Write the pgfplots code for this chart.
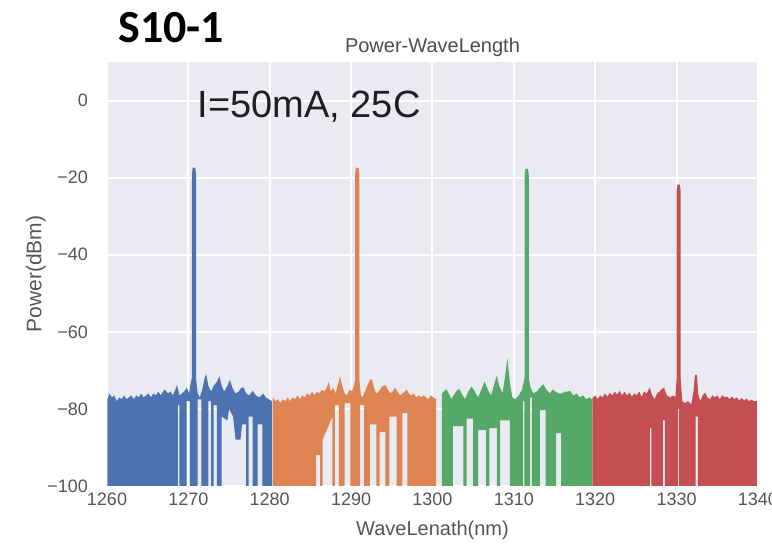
\documentclass[border=0pt]{standalone}
\usepackage{fontspec}
\setmainfont{Liberation Sans}
\newfontfamily\carlito{Carlito}
\usepackage{pgfplots}
\pgfplotsset{compat=1.18}
\usepgfplotslibrary{fillbetween}
\definecolor{sbbg}{HTML}{EAEAF2}
\definecolor{sbblue}{HTML}{4C72B0}
\definecolor{sborange}{HTML}{DD8452}
\definecolor{sbgreen}{HTML}{55A868}
\definecolor{sbred}{HTML}{C44E52}
\definecolor{ticktext}{HTML}{555555}
\begin{document}
\begin{tikzpicture}
\begin{axis}[
  at={(0pt,0pt)}, anchor=south west,
  scale only axis, width=325.5pt, height=212pt,
  xmin=1260, xmax=1340, ymin=-100, ymax=10,
  xtick={1260,1270,...,1340},
  xticklabels={1260,1270,1280,1290,1300,1310,1320,1330,1340},
  ytick={-100,-80,-60,-40,-20,0},
  yticklabels={−100,−80,−60,−40,−20,0},
  axis background/.style={fill=sbbg},
  grid=major, major grid style={white, line width=1pt},
  axis line style={draw=none},
  major tick length=0pt,
  tick label style={font=\fontsize{9}{10}\selectfont, text=ticktext},
  yticklabel style={xshift=-6pt},
  xlabel={WaveLenath(nm)},
  xlabel style={at={(axis description cs:0.5,0)}, anchor=center, yshift=-22pt,
    font=\fontsize{10}{12}\selectfont, text=ticktext},
  ylabel={Power(dBm)},
  ylabel style={at={(axis description cs:-0.109,0.5)}, anchor=center,
    font=\fontsize{10.5}{12}\selectfont, text=ticktext},
  title={Power-WaveLength},
  title style={at={(axis description cs:0.5,1)}, anchor=center, yshift=1.5pt,
    font=\fontsize{10}{12}\selectfont, text=ticktext!90!black},
  clip=false,
]
% ---- blue: 1260 - 1280 nm
\addplot[draw=none, name path=bu, forget plot] coordinates {
(1260.05,-77.5)(1260.3,-76)(1260.6,-77)(1260.9,-76.5)(1261.2,-78)(1261.5,-77)(1261.8,-77.5)(1262.1,-76.5)(1262.4,-77.5)(1262.7,-77)(1263.0,-76.5)(1263.3,-77.5)(1263.6,-76.5)(1263.9,-77)(1264.2,-76)(1264.5,-77)(1264.8,-76.5)(1265.1,-76)(1265.4,-77)(1265.7,-76)(1266.0,-76.5)(1266.3,-75.5)(1266.6,-76.5)(1266.9,-75.5)(1267.1,-75)(1267.5,-76)(1267.8,-75.5)(1268.1,-76.5)(1268.4,-75)(1268.6,-73.8)(1268.9,-76.5)(1269.2,-76)(1269.5,-75.5)(1269.8,-74.5)(1270.1,-76)(1270.3,-73)(1270.44,-72)(1270.44,-19)(1270.54,-17.4)(1270.84,-17.4)(1270.94,-19)(1270.94,-72)(1271.15,-76)(1271.4,-77)(1271.7,-75)(1272.0,-72)(1272.2,-71)(1272.45,-74)(1272.8,-75.5)(1273.1,-74)(1273.5,-73)(1273.8,-71.5)(1274.1,-74)(1274.4,-75.5)(1274.8,-74)(1275.1,-72.5)(1275.4,-74.5)(1275.8,-76)(1276.2,-75.5)(1276.5,-74.5)(1276.8,-74.5)(1277.1,-76)(1277.5,-76.5)(1277.9,-75.3)(1278.3,-76.5)(1278.7,-77)(1279.0,-76.5)(1279.2,-76)(1279.5,-77)(1279.9,-77.5)(1280.25,-78)
};
\addplot[draw=none, name path=bl, forget plot] coordinates {
(1260.05,-100)(1268.7,-100)(1268.7,-79)(1268.9,-79)(1268.9,-100)(1269.8,-100)(1269.8,-78)(1270.2,-78)(1270.2,-100)(1271.15,-100)(1271.15,-77.5)(1271.6,-77.5)(1271.6,-100)(1272.45,-100)(1272.45,-78)(1272.8,-78)(1272.8,-100)(1273.1,-100)(1273.1,-79)(1273.5,-79)(1273.5,-100)(1274.1,-100)(1274.1,-82)(1274.8,-83)(1275.0,-80)(1275.5,-82)(1275.8,-88)(1276.4,-88)(1276.6,-84)(1277.1,-84)(1277.1,-100)(1277.4,-100)(1277.4,-82)(1277.9,-82)(1277.9,-100)(1278.5,-100)(1278.5,-84)(1279.1,-84)(1279.1,-100)(1280.25,-100)
};
\addplot[fill=sbblue, draw=none, forget plot] fill between[of=bu and bl];
% ---- orange: 1280 - 1300 nm
\addplot[draw=none, name path=ou, forget plot] coordinates {
(1280.35,-77)(1280.7,-78)(1281.0,-77.5)(1281.3,-78.5)(1281.6,-77.5)(1281.9,-78)(1282.2,-77)(1282.5,-78)(1282.8,-77)(1283.1,-77.5)(1283.4,-76.5)(1283.7,-77.5)(1284.0,-76.5)(1284.3,-77)(1284.6,-76)(1284.9,-76.5)(1285.2,-75.5)(1285.5,-76.5)(1285.8,-75.5)(1286.1,-76)(1286.4,-75)(1286.7,-75.5)(1287.0,-74.5)(1287.25,-73)(1287.5,-75.5)(1287.8,-74.5)(1288.1,-76)(1288.4,-73.5)(1288.65,-71.6)(1288.9,-74)(1289.2,-76)(1289.5,-76.5)(1289.8,-75)(1290.1,-75.5)(1290.35,-74)(1290.5,-72)(1290.5,-19)(1290.6,-17.4)(1290.9,-17.4)(1291.0,-19)(1291.0,-72)(1291.2,-76.5)(1291.4,-77)(1291.7,-75.5)(1292.0,-74)(1292.3,-72.5)(1292.55,-72.3)(1292.8,-74.5)(1293.1,-76)(1293.4,-75.5)(1293.7,-74.5)(1294.0,-74)(1294.25,-73.8)(1294.5,-75)(1294.8,-76)(1295.1,-75.5)(1295.4,-74.5)(1295.7,-75.5)(1296.0,-76.5)(1296.3,-76)(1296.6,-75.5)(1296.85,-75)(1297.1,-76)(1297.4,-76.5)(1297.7,-76)(1298.0,-77)(1298.3,-76.5)(1298.6,-77)(1298.9,-76.5)(1299.2,-77)(1299.5,-77.5)(1299.8,-76.5)(1300.1,-77)(1300.45,-77.5)
};
\addplot[draw=none, name path=ol, forget plot] coordinates {
(1280.35,-100)(1285.7,-100)(1285.7,-92)(1286.2,-92)(1286.2,-100)(1286.5,-100)(1286.5,-88)(1287.7,-82)(1287.7,-100)(1288.0,-100)(1288.0,-79)(1288.5,-79)(1288.5,-100)(1289.2,-100)(1289.2,-78.5)(1289.9,-78.5)(1289.9,-100)(1291.1,-100)(1291.1,-79)(1291.6,-79)(1291.6,-100)(1292.3,-100)(1292.3,-84)(1293.1,-84)(1293.1,-100)(1293.5,-100)(1293.5,-86)(1294.2,-86)(1294.2,-100)(1294.7,-100)(1294.7,-82)(1295.6,-82)(1295.6,-100)(1296.3,-100)(1296.3,-81)(1296.9,-81)(1296.9,-100)(1300.45,-100)
};
\addplot[fill=sborange, draw=none, forget plot] fill between[of=ou and ol];
% ---- green: 1301 - 1320 nm
\addplot[draw=none, name path=gu, forget plot] coordinates {
(1301.15,-76)(1301.4,-75.5)(1301.7,-74.9)(1302.0,-76)(1302.3,-77.5)(1302.6,-76.5)(1302.9,-75.5)(1303.3,-74.8)(1303.7,-76.5)(1304.0,-77.5)(1304.4,-75.5)(1304.8,-74.2)(1305.2,-75.5)(1305.6,-77)(1306.0,-75)(1306.4,-72.9)(1306.8,-75)(1307.2,-76.5)(1307.6,-73.5)(1307.9,-71.4)(1308.2,-74)(1308.6,-76)(1308.9,-72)(1309.2,-66.8)(1309.5,-73)(1309.8,-77)(1310.2,-77.5)(1310.6,-76.5)(1311.0,-75)(1311.33,-72)(1311.33,-19.3)(1311.43,-17.7)(1311.73,-17.7)(1311.83,-19.3)(1311.83,-72)(1312.05,-74.4)(1312.4,-76)(1312.8,-75.5)(1313.2,-74.5)(1313.6,-73.6)(1314.0,-75)(1314.4,-76)(1314.8,-75)(1315.1,-75.5)(1315.5,-76)(1315.9,-76)(1316.3,-75.5)(1316.6,-75.5)(1316.9,-75.3)(1317.3,-76.5)(1317.7,-76)(1318.1,-77)(1318.5,-76.5)(1318.9,-77.5)(1319.3,-77)(1319.6,-77.6)
};
\addplot[draw=none, name path=gl, forget plot] coordinates {
(1301.15,-100)(1302.5,-100)(1302.5,-84.5)(1303.8,-84.5)(1303.8,-100)(1304.2,-100)(1304.2,-82.5)(1305.0,-82.5)(1305.0,-100)(1305.6,-100)(1305.6,-85.5)(1306.6,-85.5)(1306.6,-100)(1307.0,-100)(1307.0,-85)(1307.9,-85)(1307.9,-100)(1308.3,-100)(1308.3,-83)(1309.5,-83)(1309.5,-100)(1311.1,-100)(1311.1,-78)(1311.3,-78)(1311.3,-100)(1312.0,-100)(1312.0,-77)(1312.2,-77)(1312.2,-100)(1313.2,-100)(1313.2,-80.3)(1313.9,-80.3)(1313.9,-100)(1315.2,-100)(1315.2,-86.3)(1315.8,-86.3)(1315.8,-100)(1319.6,-100)
};
\addplot[fill=sbgreen, draw=none, forget plot] fill between[of=gu and gl];
% ---- red: 1320 - 1340 nm
\addplot[draw=none, name path=ru, forget plot] coordinates {
(1319.65,-77.2)(1320.0,-76.5)(1320.3,-77.5)(1320.6,-76.5)(1320.9,-77)(1321.2,-76)(1321.5,-76.8)(1321.8,-75.8)(1322.1,-76.5)(1322.4,-75.5)(1322.7,-76.3)(1323.0,-75.3)(1323.3,-76.5)(1323.6,-75.5)(1323.9,-76.5)(1324.2,-75.8)(1324.5,-76.8)(1324.8,-76)(1325.1,-76.5)(1325.4,-75.5)(1325.7,-76.8)(1326.0,-75.5)(1326.3,-76)(1326.7,-74.5)(1327.0,-76.5)(1327.3,-77.5)(1327.6,-76)(1327.9,-75.5)(1328.2,-74.8)(1328.45,-74.5)(1328.8,-76.5)(1329.2,-77)(1329.6,-76.5)(1329.85,-77)(1330.0,-72)(1330.0,-23.4)(1330.1,-21.8)(1330.4,-21.8)(1330.5,-23.4)(1330.5,-72)(1330.7,-78)(1331.0,-78.5)(1331.4,-78)(1331.8,-78.8)(1332.1,-75)(1332.25,-71.2)(1332.5,-71.2)(1332.65,-76)(1332.9,-78)(1333.2,-76.5)(1333.5,-75.8)(1333.8,-77)(1334.1,-77.5)(1334.4,-76.5)(1334.7,-77)(1335.0,-76.5)(1335.3,-77.5)(1335.6,-76.5)(1335.9,-77)(1336.2,-76.8)(1336.5,-77.5)(1336.8,-76.8)(1337.1,-77.5)(1337.4,-77)(1337.7,-77.8)(1338.0,-77.2)(1338.3,-77.8)(1338.6,-77.3)(1338.9,-78)(1339.2,-77.6)(1339.5,-78)(1339.85,-78)
};
\addplot[draw=none, name path=rl, forget plot] coordinates {
(1319.65,-100)(1326.7,-100)(1326.7,-85)(1326.9,-85)(1326.9,-100)(1328.3,-100)(1328.3,-83)(1328.55,-83)(1328.55,-100)(1330.18,-100)(1330.18,-80)(1330.32,-80)(1330.32,-100)(1332.35,-100)(1332.35,-82)(1332.6,-82)(1332.6,-100)(1339.85,-100)
};
\addplot[fill=sbred, draw=none, forget plot] fill between[of=ru and rl];
% ---- annotations
\node[anchor=base west, inner sep=0pt, font=\fontsize{19}{22}\selectfont, text=black!88]
  at (axis cs:1271.1,-4.4) {I=50mA, 25C};
\node[anchor=base west, inner sep=0pt, xshift=5.5pt, yshift=9.75pt,
  font=\carlito\bfseries\fontsize{23}{26}\selectfont] at (rel axis cs:0,1) {S10-1};
\end{axis}
\pgfresetboundingbox
\useasboundingbox (-53.5pt,-29.5pt) rectangle (332.5pt,243pt);
\end{tikzpicture}
\end{document}
